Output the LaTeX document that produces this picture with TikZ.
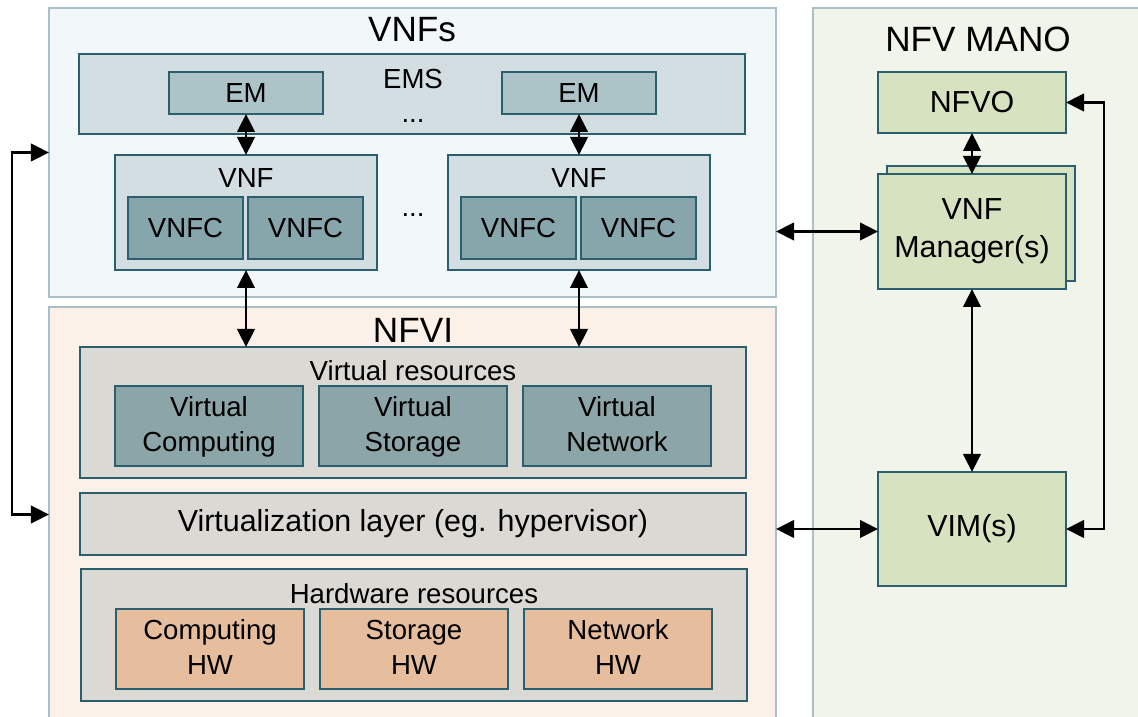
\documentclass[tikz,border=0pt]{standalone}
\usepackage{fontspec}
\setmainfont{Liberation Sans}
\usetikzlibrary{arrows.meta,positioning,calc}
\definecolor{nvline}{HTML}{2C5F6D}
\definecolor{nvrim}{HTML}{A9C0C8}
\definecolor{nvvnfsbg}{HTML}{F2F7FA}
\definecolor{nvnfvibg}{HTML}{FBF1E9}
\definecolor{nvmanobg}{HTML}{F0F4EA}
\definecolor{nvpale}{HTML}{D2DEE2}
\definecolor{nvem}{HTML}{ACC3C8}
\definecolor{nvvnfc}{HTML}{87A6AC}
\definecolor{nvgrey}{HTML}{DBD9D4}
\definecolor{nvvirt}{HTML}{8CA5A8}
\definecolor{nvhw}{HTML}{E6BE9E}
\definecolor{nvmgmt}{HTML}{D7E3C0}
\newcommand{\nvtext}{\fontsize{15.7}{19.8}\selectfont}
\newcommand{\nvmid}{\fontsize{17.3}{21.5}\selectfont}
\newcommand{\nvbig}{\fontsize{20}{24}\selectfont}
\tikzset{
  nvgroup/.style={
    rectangle, draw=nvrim, line width=0.9pt,
    inner sep=0pt, outer sep=0pt
  },
  nvbox/.style={
    rectangle, draw=nvline, line width=1.1pt,
    inner sep=0pt, outer sep=0pt, align=center, font=\nvtext
  },
  nvsmall/.style={nvbox,minimum width=30.8mm,minimum height=8.4mm,fill=nvem},
  nvvnfcbox/.style={nvbox,minimum width=23mm,minimum height=12.4mm,fill=nvvnfc},
  nvres/.style={nvbox,minimum width=37.6mm,minimum height=16mm,text depth=0.22em},
  nvmano/.style={nvbox,minimum width=37.6mm,fill=nvmgmt,font=\nvmid},
  nvtitle/.style={font=\nvbig,anchor=base,inner sep=0pt},
  nvcaption/.style={font=\nvtext,anchor=base,inner sep=0pt},
  nvlink/.style={
    {Triangle[length=3.6mm,width=3.5mm]}-{Triangle[length=3.6mm,width=3.5mm]},
    line width=1.3pt
  }
}
\begin{document}
\begin{tikzpicture}[x=0.2mm,y=-0.2mm]
  \useasboundingbox (0,0) rectangle (1138,717);
  % groups
  \node[nvgroup,fill=nvvnfsbg,minimum width=145.4mm,minimum height=57.8mm] (vnfs) at (412.5,152.5) {};
  \node[nvgroup,fill=nvnfvibg,minimum width=145.4mm,minimum height=83mm] (nfvi) at (412.5,514.5) {};
  \node[nvgroup,fill=nvmanobg,minimum width=66mm,minimum height=142.8mm] (mano) at (978,365) {};
  \node[nvtitle] (vnfstitle) at (412,42) {VNFs};
  \node[nvtitle] (nfvititle) at (413,343) {NFVI};
  \node[nvtitle] (manotitle) at (978,52) {NFV MANO};

  % VNFs
  \node[nvbox,fill=nvpale,minimum width=133.2mm,minimum height=16mm] (ems) at (412,94) {};
  \node[nvcaption] (emstext) at (413,89) {EMS};
  \node[nvcaption] (emsdots) at (413,123) {...};
  \node[nvsmall] (em1) at (246,93) {EM};
  \node[nvsmall] (em2) at (579,93) {EM};
  \node[nvbox,fill=nvpale,minimum width=52.4mm,minimum height=23mm] (vnf1) at (246,212.5) {};
  \node[nvcaption] (vnf1text) at (246,188) {VNF};
  \node[nvvnfcbox] (vnfc11) at (185.5,228) {VNFC};
  \node[nvvnfcbox] (vnfc12) at (305.5,228) {VNFC};
  \node[nvbox,fill=nvpale,minimum width=52.4mm,minimum height=23mm] (vnf2) at (579,212.5) {};
  \node[nvcaption] (vnf2text) at (579,188) {VNF};
  \node[nvvnfcbox] (vnfc21) at (518.5,228) {VNFC};
  \node[nvvnfcbox] (vnfc22) at (638.5,228) {VNFC};
  \node[nvcaption] (vnfdots) at (413,217) {...};

  % NFVI
  \node[nvbox,fill=nvgrey,minimum width=133.2mm,minimum height=26.2mm] (vres) at (413,412.5) {};
  \node[nvcaption] (vrestext) at (413,381) {Virtual resources};
  \node[nvres,fill=nvvirt] (vcomp) at (209,426) {Virtual\\Computing};
  \node[nvres,fill=nvvirt] (vstor) at (413,426) {Virtual\\Storage};
  \node[nvres,fill=nvvirt] (vnet) at (617,426) {Virtual\\Network};
  \node[nvbox,fill=nvgrey,minimum width=133.2mm,minimum height=12.4mm,font=\nvmid] (vlayer) at (413,524) {Virtualization layer (eg. hypervisor)};
  \node[nvbox,fill=nvgrey,minimum width=133.2mm,minimum height=26.4mm] (hwres) at (414,635) {};
  \node[nvcaption] (hwrestext) at (414,604) {Hardware resources};
  \node[nvres,fill=nvhw] (hwcomp) at (210,649) {Computing\\HW};
  \node[nvres,fill=nvhw] (hwstor) at (414,649) {Storage\\HW};
  \node[nvres,fill=nvhw] (hwnet) at (618,649) {Network\\HW};

  % NFV MANO
  \node[nvmano,minimum height=12.2mm] (nfvo) at (972,102.5) {NFVO};
  \node[nvmano,minimum height=23mm] (vnfmback) at (981,223.5) {};
  \node[nvmano,minimum height=23mm] (vnfm) at (972,231.5) {VNF\\Manager(s)};
  \node[nvmano,minimum height=22.8mm] (vim) at (972,529) {VIM(s)};

  % reference points
  \draw[nvlink] (em1) -- (vnf1);
  \draw[nvlink] (em2) -- (vnf2);
  \draw[nvlink] (vnf1.south) -- (vnf1.south |- vres.north);
  \draw[nvlink] (vnf2.south) -- (vnf2.south |- vres.north);
  \draw[nvlink] (vnfs.east |- vnfm.west) -- (vnfm.west);
  \draw[nvlink] (nfvi.east |- vim.west) -- (vim.west);
  \draw[nvlink] (nfvo) -- (vnfm);
  \draw[nvlink] (vnfm) -- (vim);
  \draw[nvlink] (nfvo.east) -- ++(38,0) |- (vim.east);
  \draw[nvlink] (vnfs.west) -- ++(-37,0) |- (nfvi.west);
\end{tikzpicture}
\end{document}
